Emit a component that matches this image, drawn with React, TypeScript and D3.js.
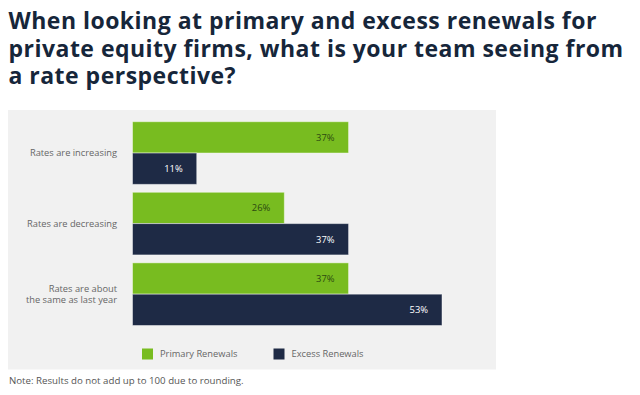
import React from 'react';
import * as d3 from 'd3';

const categories = ['Rates are increasing', 'Rates are decreasing', 'Rates are about|the same as last year'];
const seriesNames = ['Primary Renewals', 'Excess Renewals'];
const primaryValues = [37, 26, 37];
const excessValues = [11, 37, 53];
const titleLines = [
  'When looking at primary and excess renewals for',
  'private equity firms, what is your team seeing from',
  'a rate perspective?',
];
const note = 'Note: Results do not add up to 100 due to rounding.';

const colors = ['#78bc20', '#1e2a45'];
const labelColors = ['#2d4a10', '#ffffff'];

function App() {
  const width = 640;
  const height = 395;

  const xScale = d3.scaleLinear().domain([0, 53]).range([132.5, 442]);
  const yScale = d3.scaleBand<number>()
    .domain(d3.range(categories.length))
    .range([121.7, 325.5])
    .paddingInner(0.112)
    .paddingOuter(0);
  const subScale = d3.scaleBand<number>()
    .domain([0, 1])
    .range([0, yScale.bandwidth()]);

  const series = [primaryValues, excessValues];

  return (
    <svg width={width} height={height} style={{ position: 'absolute', left: 0, top: 0 }}
      fontFamily="'Open Sans', sans-serif">
      <rect x={0} y={0} width={width} height={height} fill="#ffffff" />
      {titleLines.map((line, i) => (
        <text key={i} x={8.5} y={29.3 + i * 27.35} fontSize={23} fontWeight={700} letterSpacing={0.48}
          fill="#16263a">{line}</text>
      ))}
      <rect x={8} y={110} width={488} height={259.5} fill="#f1f1f1" />
      {categories.map((cat, i) => {
        const lines = cat.split('|');
        const cy = (yScale(i) as number) + yScale.bandwidth() / 2;
        return (
          <g key={cat}>
            {lines.map((ln, j) => (
              <text key={j} x={117} y={cy + (j - (lines.length - 1) / 2) * 11.7} dy="0.35em"
                textAnchor="end" fontSize={9.3} fill="#666666">{ln}</text>
            ))}
            {series.map((vals, s) => {
              const y = (yScale(i) as number) + (subScale(s) as number);
              const x1 = xScale(vals[i]);
              return (
                <g key={s}>
                  <rect x={xScale(0)} y={y} width={x1 - xScale(0)} height={subScale.bandwidth()}
                    fill={colors[s]} stroke="#ffffff" strokeOpacity={0.45} strokeWidth={1} />
                  <text x={x1 - 14} y={y + subScale.bandwidth() / 2} dy="0.35em" textAnchor="end"
                    fontSize={9.4} fill={labelColors[s]}>{vals[i]}%</text>
                </g>
              );
            })}
          </g>
        );
      })}
      {seriesNames.map((name, s) => {
        const lx = s === 0 ? 142 : 273.5;
        return (
          <g key={name}>
            <rect x={lx} y={348.5} width={11} height={11} fill={colors[s]} />
            <text x={lx + 18} y={354} dy="0.35em" fontSize={9.3} fill="#666666">{name}</text>
          </g>
        );
      })}
      <text x={9} y={383.5} fontSize={9.7} fill="#555555">{note}</text>
    </svg>
  );
}

export default App;
